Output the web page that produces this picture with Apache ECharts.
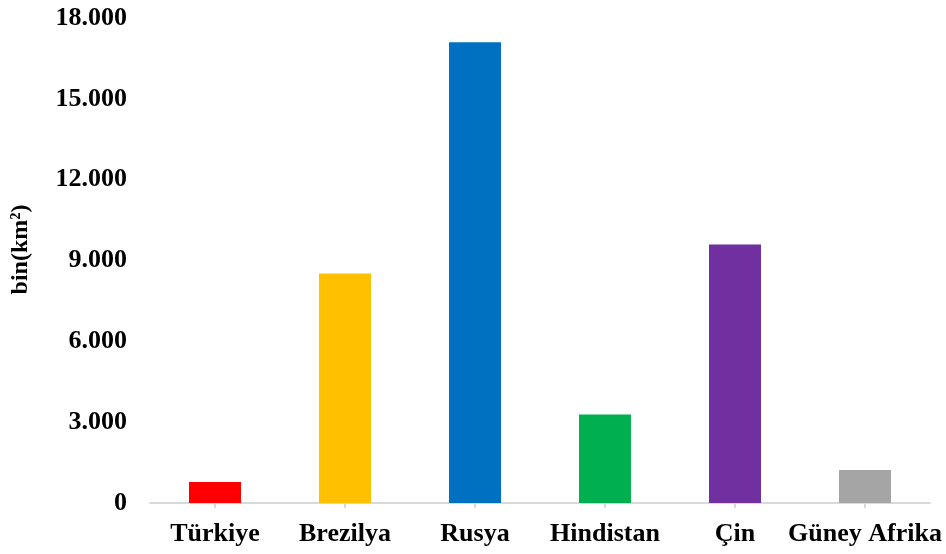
<!DOCTYPE html>
<html><head><meta charset="utf-8">
<script src="https://cdn.jsdelivr.net/npm/echarts@6/dist/echarts.min.js"></script>
<style>html,body{margin:0;padding:0;background:#fff}#c{width:946px;height:554px}</style>
</head><body><div id="c"></div>
<script>
const categories = ["Türkiye","Brezilya","Rusya","Hindistan","Çin","Güney Afrika"];
const values = [784, 8516, 17098, 3287, 9597, 1221];
const colors = ["#ff0000","#ffc000","#0070c0","#00b050","#7030a0","#a5a5a5"];
const yTitle = "bin(km²)";
const font = "'Liberation Serif','Times New Roman',serif";
const chart = echarts.init(document.getElementById('c'));
chart.setOption({
  animation:false,
  grid:{left:150,right:16,top:18,bottom:51,containLabel:false},
  xAxis:{type:'category',data:categories,
    axisLine:{lineStyle:{color:'#d9d9d9',width:2}},
    axisTick:{show:true,alignWithLabel:true,length:5,lineStyle:{color:'#d9d9d9',width:2}},
    axisLabel:{color:'#000',fontFamily:font,fontWeight:'bold',fontSize:26,margin:18,interval:0}},
  yAxis:{type:'value',min:0,max:18000,interval:3000,
    name:yTitle,nameLocation:'middle',nameGap:117,
    nameTextStyle:{color:'#000',fontFamily:font,fontWeight:'bold',fontSize:24,padding:[0,0,0,22]},
    axisLine:{show:false},axisTick:{show:false},splitLine:{show:false},
    axisLabel:{color:'#000',fontFamily:font,fontWeight:'bold',fontSize:26,margin:23,
      formatter:v=>v.toString().replace(/\B(?=(\d{3})+(?!\d))/g,'.')}},
  series:[{type:'bar',barWidth:52,
    data:values.map((v,i)=>({value:v,itemStyle:{color:colors[i]}}))}]
});
</script></body></html>
